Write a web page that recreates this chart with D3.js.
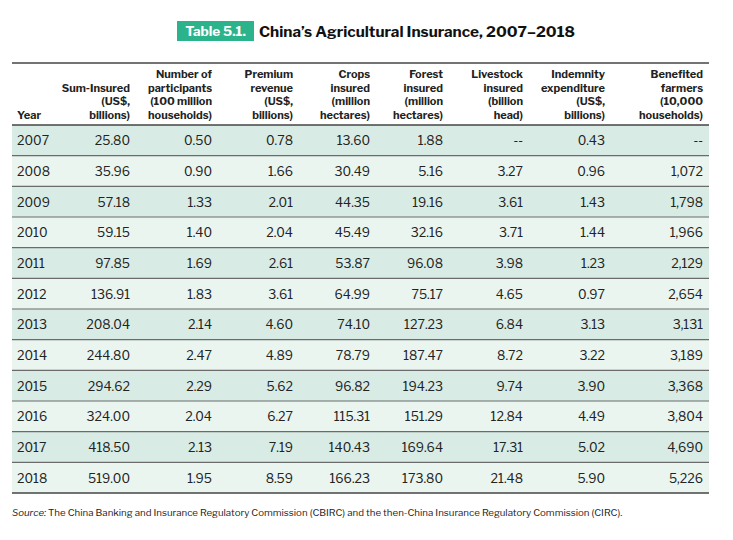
<!DOCTYPE html>
<html><head><meta charset="utf-8">
<script src="https://cdn.jsdelivr.net/npm/d3@7"></script>
<style>
body{margin:0;background:#fff;}
svg{display:block;font-family:"Libre Franklin","Open Sans","Noto Sans",sans-serif;}
</style></head>
<body><svg id="c" width="733" height="540"></svg>
<script>
const years = [2007,2008,2009,2010,2011,2012,2013,2014,2015,2016,2017,2018];
const sumInsured = [25.80,35.96,57.18,59.15,97.85,136.91,208.04,244.80,294.62,324.00,418.50,519.00];
const participants = [0.50,0.90,1.33,1.40,1.69,1.83,2.14,2.47,2.29,2.04,2.13,1.95];
const premium = [0.78,1.66,2.01,2.04,2.61,3.61,4.60,4.89,5.62,6.27,7.19,8.59];
const crops = [13.60,30.49,44.35,45.49,53.87,64.99,74.10,78.79,96.82,115.31,140.43,166.23];
const forest = [1.88,5.16,19.16,32.16,96.08,75.17,127.23,187.47,194.23,151.29,169.64,173.80];
const livestock = [null,3.27,3.61,3.71,3.98,4.65,6.84,8.72,9.74,12.84,17.31,21.48];
const indemnity = [0.43,0.96,1.43,1.44,1.23,0.97,3.13,3.22,3.90,4.49,5.02,5.90];
const farmers = [null,1072,1798,1966,2129,2654,3131,3189,3368,3804,4690,5226];
const headers = [
  ["Year"],
  ["Sum-Insured","(US$,","billions)"],
  ["Number of","participants","(100 million","households)"],
  ["Premium","revenue","(US$,","billions)"],
  ["Crops","insured","(million","hectares)"],
  ["Forest","insured","(million","hectares)"],
  ["Livestock","insured","(billion","head)"],
  ["Indemnity","expenditure","(US$,","billions)"],
  ["Benefited","farmers","(10,000","households)"]
];
const badge = "Table 5.1.";
const title = "China’s Agricultural Insurance, 2007–2018";
const source = "The China Banking and Insurance Regulatory Commission (CBIRC) and the then-China Insurance Regulatory Commission (CIRC).";

const f2 = d3.format(".2f"), fc = d3.format(",");
const series = [sumInsured,participants,premium,crops,forest,livestock,indemnity,farmers];
const fmts = [f2,f2,f2,f2,f2,f2,f2,fc];

const svg = d3.select("#c");
const left = 12, right = 709;
const colRight = [null,130,212,293,370,443,523,605,703];
const y = d3.scaleBand().domain(years).range([125,493]).padding(0);

// title
const g0 = svg.append("g");
g0.append("rect").attr("x",177).attr("y",21).attr("width",77).attr("height",20).attr("fill","#2bb38b");
g0.append("text").attr("x",215.5).attr("y",36).attr("text-anchor","middle").attr("fill","#fff")
  .attr("font-size",13.5).attr("font-weight",700).text(badge);
g0.append("text").attr("x",259).attr("y",37).attr("fill","#111")
  .attr("font-size",15.3).attr("font-weight",700).text(title);

// rows
const rows = svg.append("g").selectAll("g").data(years).join("g");
rows.append("rect").attr("x",left).attr("width",right-left)
  .attr("y",d=>y(d)).attr("height",y.bandwidth())
  .attr("fill",(d,i)=> i%2===0 ? "#d8ece5" : "#eaf5f0");
rows.append("text").attr("x",17).attr("y",d=>y(d)+y.bandwidth()/2+5)
  .attr("font-size",12.5).attr("fill","#222").text(d=>d);
series.forEach((s,j)=>{
  rows.append("text").attr("x",colRight[j+1]).attr("text-anchor","end")
    .attr("y",d=>y(d)+y.bandwidth()/2+5).attr("font-size",12.5).attr("fill","#222")
    .text((d,i)=> s[i]==null ? "--" : fmts[j](s[i]));
});
// separators
svg.append("g").selectAll("line").data(years.slice(1)).join("line")
  .attr("x1",left).attr("x2",right).attr("y1",d=>y(d)).attr("y2",d=>y(d))
  .attr("stroke","#6b6b6b").attr("stroke-width",1.2);
[63,125,493].forEach(v=>svg.append("line").attr("x1",left).attr("x2",right)
  .attr("y1",v).attr("y2",v).attr("stroke","#444").attr("stroke-width",1.5));

// headers
const hg = svg.append("g");
headers.forEach((h,j)=>{
  const n = h.length;
  h.forEach((line,k)=>{
    hg.append("text").attr("x", j===0 ? 17 : colRight[j])
      .attr("text-anchor", j===0 ? "start":"end")
      .attr("y", 119 - (n-1-k)*13.7).attr("font-size",11).attr("font-weight",700)
      .attr("fill","#222").text(line);
  });
});

// source
const st = svg.append("text").attr("x",12).attr("y",516).attr("font-size",9.7).attr("fill","#222");
st.append("tspan").attr("font-style","italic").text("Source:");
st.append("tspan").text(" "+source);
</script></body></html>
